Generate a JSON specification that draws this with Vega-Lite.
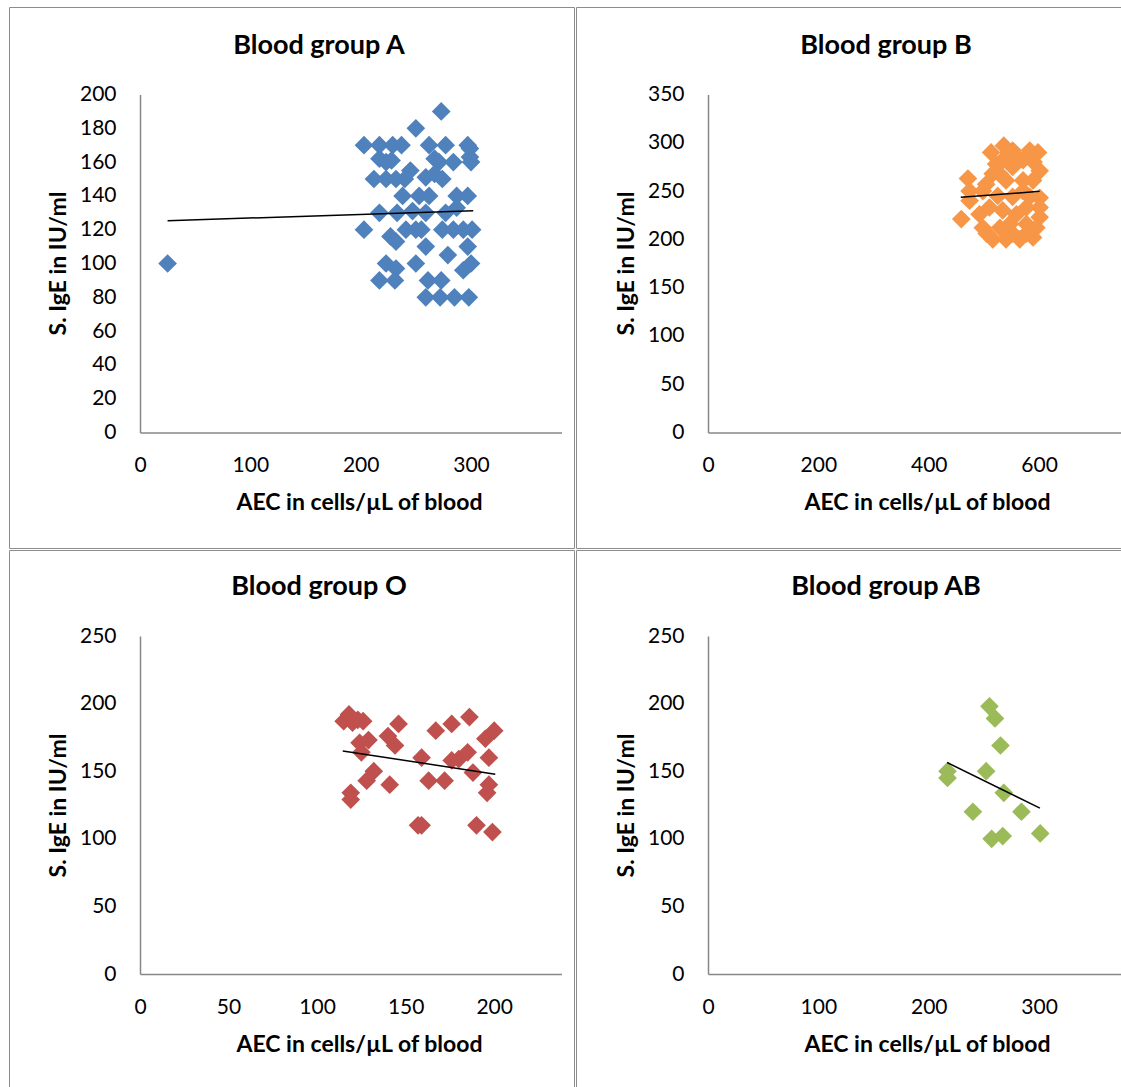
{
  "$schema": "https://vega.github.io/schema/vega-lite/v6.json",
  "background": "white",
  "padding": {"left": 8, "top": 6, "right": 0, "bottom": 0},
  "spacing": 0,
  "datasets": {
    "A": [
      {"aec": 25, "ige": 100}, {"aec": 273, "ige": 190}, {"aec": 250, "ige": 180},
      {"aec": 203, "ige": 170}, {"aec": 217, "ige": 170}, {"aec": 229, "ige": 170}, {"aec": 237, "ige": 170},
      {"aec": 262, "ige": 170}, {"aec": 277, "ige": 170}, {"aec": 297, "ige": 170}, {"aec": 299, "ige": 168},
      {"aec": 217, "ige": 162}, {"aec": 223, "ige": 160}, {"aec": 228, "ige": 161}, {"aec": 267, "ige": 162},
      {"aec": 271, "ige": 160}, {"aec": 284, "ige": 160}, {"aec": 299, "ige": 163}, {"aec": 300, "ige": 160},
      {"aec": 245, "ige": 155},
      {"aec": 212, "ige": 150}, {"aec": 223, "ige": 150}, {"aec": 232, "ige": 150}, {"aec": 240, "ige": 150},
      {"aec": 259, "ige": 151}, {"aec": 267, "ige": 153}, {"aec": 274, "ige": 150},
      {"aec": 238, "ige": 140}, {"aec": 253, "ige": 140}, {"aec": 262, "ige": 140}, {"aec": 287, "ige": 140}, {"aec": 297, "ige": 140},
      {"aec": 217, "ige": 130}, {"aec": 233, "ige": 130}, {"aec": 247, "ige": 131}, {"aec": 259, "ige": 130},
      {"aec": 277, "ige": 130}, {"aec": 287, "ige": 133},
      {"aec": 203, "ige": 120}, {"aec": 241, "ige": 120}, {"aec": 250, "ige": 120}, {"aec": 255, "ige": 120},
      {"aec": 274, "ige": 120}, {"aec": 284, "ige": 120}, {"aec": 293, "ige": 120}, {"aec": 301, "ige": 120},
      {"aec": 227, "ige": 116}, {"aec": 232, "ige": 113},
      {"aec": 259, "ige": 110}, {"aec": 297, "ige": 110},
      {"aec": 279, "ige": 105},
      {"aec": 223, "ige": 100}, {"aec": 232, "ige": 97}, {"aec": 250, "ige": 100}, {"aec": 300, "ige": 100}, {"aec": 293, "ige": 96},
      {"aec": 217, "ige": 90}, {"aec": 231, "ige": 90}, {"aec": 261, "ige": 90}, {"aec": 273, "ige": 90},
      {"aec": 259, "ige": 80}, {"aec": 272, "ige": 80}, {"aec": 285, "ige": 80}, {"aec": 298, "ige": 80}
    ],
    "B": [
      {"aec": 459, "ige": 221}, {"aec": 471, "ige": 263}, {"aec": 474, "ige": 240}, {"aec": 536, "ige": 297},
      {"aec": 513, "ige": 290}, {"aec": 598, "ige": 290}, {"aec": 601, "ige": 271}, {"aec": 516, "ige": 268},
      {"aec": 498, "ige": 212}, {"aec": 516, "ige": 200}, {"aec": 540, "ige": 200}, {"aec": 565, "ige": 200},
      {"aec": 589, "ige": 202}, {"aec": 601, "ige": 223}, {"aec": 601, "ige": 233}, {"aec": 601, "ige": 243},
      {"aec": 492, "ige": 226}, {"aec": 498, "ige": 250}, {"aec": 552, "ige": 275}, {"aec": 571, "ige": 282},
      {"aec": 583, "ige": 292}, {"aec": 552, "ige": 292}, {"aec": 534, "ige": 282}, {"aec": 540, "ige": 261},
      {"aec": 571, "ige": 261}, {"aec": 589, "ige": 261}, {"aec": 510, "ige": 233}, {"aec": 534, "ige": 230},
      {"aec": 559, "ige": 226}, {"aec": 577, "ige": 233}, {"aec": 547, "ige": 216}, {"aec": 577, "ige": 216},
      {"aec": 595, "ige": 212}, {"aec": 529, "ige": 212}, {"aec": 505, "ige": 206}, {"aec": 552, "ige": 206},
      {"aec": 577, "ige": 206}, {"aec": 474, "ige": 250}, {"aec": 552, "ige": 244}, {"aec": 583, "ige": 244},
      {"aec": 571, "ige": 250}, {"aec": 522, "ige": 278}, {"aec": 504, "ige": 257}, {"aec": 560, "ige": 285},
      {"aec": 525, "ige": 245}, {"aec": 590, "ige": 280}, {"aec": 545, "ige": 290}, {"aec": 528, "ige": 268}
    ],
    "O": [
      {"aec": 115, "ige": 187}, {"aec": 118, "ige": 192}, {"aec": 120, "ige": 186}, {"aec": 123, "ige": 188},
      {"aec": 126, "ige": 187}, {"aec": 146, "ige": 185}, {"aec": 167, "ige": 180}, {"aec": 176, "ige": 185},
      {"aec": 186, "ige": 190}, {"aec": 200, "ige": 180}, {"aec": 195, "ige": 174}, {"aec": 124, "ige": 171},
      {"aec": 129, "ige": 173}, {"aec": 140, "ige": 176}, {"aec": 144, "ige": 169}, {"aec": 125, "ige": 164},
      {"aec": 159, "ige": 160}, {"aec": 176, "ige": 158}, {"aec": 180, "ige": 159}, {"aec": 185, "ige": 164},
      {"aec": 197, "ige": 160}, {"aec": 188, "ige": 149}, {"aec": 132, "ige": 150}, {"aec": 128, "ige": 143},
      {"aec": 141, "ige": 140}, {"aec": 163, "ige": 143}, {"aec": 172, "ige": 143}, {"aec": 197, "ige": 140},
      {"aec": 196, "ige": 134}, {"aec": 119, "ige": 134}, {"aec": 119, "ige": 129}, {"aec": 157, "ige": 110},
      {"aec": 159, "ige": 110}, {"aec": 190, "ige": 110}, {"aec": 199, "ige": 105}
    ],
    "AB": [
      {"aec": 255, "ige": 198}, {"aec": 260, "ige": 189}, {"aec": 265, "ige": 169}, {"aec": 217, "ige": 150},
      {"aec": 217, "ige": 145}, {"aec": 252, "ige": 150}, {"aec": 268, "ige": 134}, {"aec": 240, "ige": 120},
      {"aec": 284, "ige": 120}, {"aec": 257, "ige": 100}, {"aec": 267, "ige": 102}, {"aec": 301, "ige": 104}
    ],
    "trends": [
      {"group": "A", "aec": 25, "ige": 125.3}, {"group": "A", "aec": 302, "ige": 131.2},
      {"group": "B", "aec": 458, "ige": 243.5}, {"group": "B", "aec": 601, "ige": 249.7},
      {"group": "O", "aec": 114.5, "ige": 165}, {"group": "O", "aec": 200.6, "ige": 147.8},
      {"group": "AB", "aec": 216.7, "ige": 156.4}, {"group": "AB", "aec": 300.7, "ige": 122.7}
    ]
  },
  "vconcat": [
    {
      "spacing": 0,
      "hconcat": [
        {
          "width": 565, "height": 541,
          "title": {"text": "Blood group A", "anchor": "start", "frame": "group", "align": "center", "dx": 310, "offset": -74, "baseline": "alphabetic"},
          "layer": [
            {
              "data": {"name": "A"},
              "mark": {"type": "point", "shape": "diamond", "filled": true, "size": 350, "opacity": 1, "color": "#4F81BD"},
              "encoding": {
                "x": {"field": "aec", "type": "quantitative",
                  "scale": {"domain": [0, 382], "range": [131, 552.5], "nice": false, "zero": false},
                  "axis": {"title": "AEC in cells/µL of blood", "values": [0, 100, 200, 300], "offset": -115.5, "titleX": 350, "titleY": 70}},
                "y": {"field": "ige", "type": "quantitative",
                  "scale": {"domain": [0, 200], "range": [425.5, 87.5], "nice": false, "zero": false},
                  "axis": {"title": "S. IgE in IU/ml", "values": [0, 20, 40, 60, 80, 100, 120, 140, 160, 180, 200], "offset": -131, "titleX": -82, "titleY": 256}}
              }
            },
            {
              "data": {"name": "trends"},
              "transform": [{"filter": "datum.group === 'A'"}],
              "mark": {"type": "line", "color": "black", "strokeWidth": 1.5},
              "encoding": {"x": {"field": "aec", "type": "quantitative"}, "y": {"field": "ige", "type": "quantitative"}}
            }
          ]
        },
        {
          "width": 548, "height": 541,
          "title": {"text": "Blood group B", "anchor": "start", "frame": "group", "align": "center", "dx": 310, "offset": -74, "baseline": "alphabetic"},
          "layer": [
            {
              "data": {"name": "B"},
              "mark": {"type": "point", "shape": "diamond", "filled": true, "size": 350, "opacity": 1, "color": "#F79646"},
              "encoding": {
                "x": {"field": "aec", "type": "quantitative",
                  "scale": {"domain": [0, 752], "range": [132, 547], "nice": false, "zero": false},
                  "axis": {"title": "AEC in cells/µL of blood", "values": [0, 200, 400, 600], "offset": -115.5, "titleX": 351, "titleY": 70}},
                "y": {"field": "ige", "type": "quantitative",
                  "scale": {"domain": [0, 350], "range": [425.5, 87.5], "nice": false, "zero": false},
                  "axis": {"title": "S. IgE in IU/ml", "values": [0, 50, 100, 150, 200, 250, 300, 350], "offset": -132, "titleX": -82, "titleY": 256}}
              }
            },
            {
              "data": {"name": "trends"},
              "transform": [{"filter": "datum.group === 'B'"}],
              "mark": {"type": "line", "color": "black", "strokeWidth": 1.5},
              "encoding": {"x": {"field": "aec", "type": "quantitative"}, "y": {"field": "ige", "type": "quantitative"}}
            }
          ]
        }
      ]
    },
    {
      "spacing": 0,
      "hconcat": [
        {
          "width": 565, "height": 539,
          "title": {"text": "Blood group O", "anchor": "start", "frame": "group", "align": "center", "dx": 310, "offset": -72, "baseline": "alphabetic"},
          "layer": [
            {
              "data": {"name": "O"},
              "mark": {"type": "point", "shape": "diamond", "filled": true, "size": 350, "opacity": 1, "color": "#C0504D"},
              "encoding": {
                "x": {"field": "aec", "type": "quantitative",
                  "scale": {"domain": [0, 238], "range": [131, 552.5], "nice": false, "zero": false},
                  "axis": {"title": "AEC in cells/µL of blood", "values": [0, 50, 100, 150, 200], "offset": -115, "titleX": 350, "titleY": 70}},
                "y": {"field": "ige", "type": "quantitative",
                  "scale": {"domain": [0, 250], "range": [424, 86], "nice": false, "zero": false},
                  "axis": {"title": "S. IgE in IU/ml", "values": [0, 50, 100, 150, 200, 250], "offset": -131, "titleX": -82, "titleY": 255}}
              }
            },
            {
              "data": {"name": "trends"},
              "transform": [{"filter": "datum.group === 'O'"}],
              "mark": {"type": "line", "color": "black", "strokeWidth": 1.5},
              "encoding": {"x": {"field": "aec", "type": "quantitative"}, "y": {"field": "ige", "type": "quantitative"}}
            }
          ]
        },
        {
          "width": 548, "height": 539,
          "title": {"text": "Blood group AB", "anchor": "start", "frame": "group", "align": "center", "dx": 310, "offset": -72, "baseline": "alphabetic"},
          "layer": [
            {
              "data": {"name": "AB"},
              "mark": {"type": "point", "shape": "diamond", "filled": true, "size": 350, "opacity": 1, "color": "#9BBB59"},
              "encoding": {
                "x": {"field": "aec", "type": "quantitative",
                  "scale": {"domain": [0, 376], "range": [132, 547], "nice": false, "zero": false},
                  "axis": {"title": "AEC in cells/µL of blood", "values": [0, 100, 200, 300], "offset": -115, "titleX": 351, "titleY": 70}},
                "y": {"field": "ige", "type": "quantitative",
                  "scale": {"domain": [0, 250], "range": [424, 86], "nice": false, "zero": false},
                  "axis": {"title": "S. IgE in IU/ml", "values": [0, 50, 100, 150, 200, 250], "offset": -132, "titleX": -82, "titleY": 255}}
              }
            },
            {
              "data": {"name": "trends"},
              "transform": [{"filter": "datum.group === 'AB'"}],
              "mark": {"type": "line", "color": "black", "strokeWidth": 1.5},
              "encoding": {"x": {"field": "aec", "type": "quantitative"}, "y": {"field": "ige", "type": "quantitative"}}
            }
          ]
        }
      ]
    }
  ],
  "config": {
    "font": "Lato",
    "view": {"stroke": "#8c8c8c", "strokeWidth": 1},
    "title": {"font": "Lato", "fontSize": 27, "fontWeight": "bold", "color": "#000000"},
    "axis": {
      "grid": false, "ticks": false, "tickSize": 0,
      "domainColor": "#878787", "domainWidth": 1.5,
      "labelFont": "Lato", "labelFontSize": 21, "labelColor": "#000000",
      "labelFlush": false, "labelOverlap": false,
      "titleFont": "Lato", "titleFontSize": 23, "titleFontWeight": "bold", "titleColor": "#000000",
      "titleBaseline": "middle", "titleAlign": "center"
    },
    "axisX": {"labelBaseline": "middle", "labelPadding": 33},
    "axisY": {"labelPadding": 24, "titleAngle": -90}
  }
}
